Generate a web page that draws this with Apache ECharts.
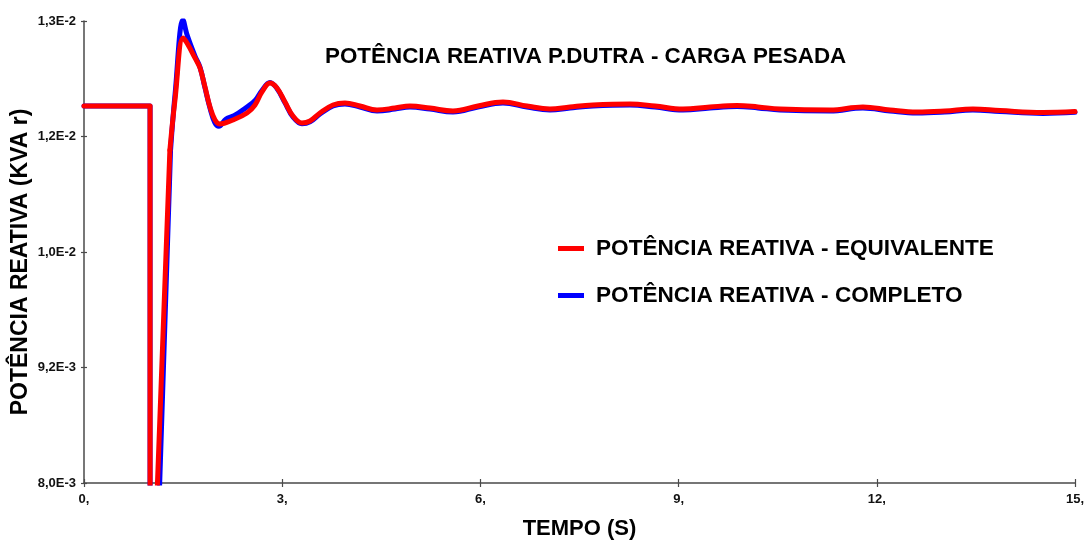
<!DOCTYPE html>
<html>
<head>
<meta charset="utf-8">
<script src="https://cdn.jsdelivr.net/npm/echarts@6/dist/echarts.min.js"></script>
<style>
  html, body { margin: 0; padding: 0; background: #ffffff; }
  #chart { width: 1091px; height: 547px; }
</style>
</head>
<body>
<div id="chart"></div>
<script>
// Reactive power at P.Dutra, heavy load: equivalent vs. complete model
const chartTitle = 'POTÊNCIA REATIVA P.DUTRA - CARGA PESADA';
const xName = 'TEMPO (S)';
const yName = 'POTÊNCIA REATIVA (KVA r)';
const seriesNames = ['POTÊNCIA REATIVA - EQUIVALENTE', 'POTÊNCIA REATIVA - COMPLETO'];

// y tick labels, evenly spaced from 8.0E-3 to 1.3E-2
const yTickLabels = ['8,0E-3', '9,2E-3', '1,0E-2', '1,2E-2', '1,3E-2'];
const yMin = 0.008;
const yMax = 0.013;

// x ticks every 3 s
const xMin = 0;
const xMax = 15;
const xStep = 3;

// Equivalent model (s, kVAr)
const tempoEquivalente = [0, 1.0, 1.0, 1.06, 1.30, 1.377, 1.50, 1.559, 1.68, 1.756, 1.831, 1.907, 1.983, 2.058,
  2.255, 2.467, 2.588, 2.694, 2.815, 2.921, 3.042, 3.163, 3.299, 3.421, 3.572, 3.769, 3.950, 4.177, 4.435,
  4.707, 4.934, 5.237, 5.585, 5.963, 6.342, 6.705, 7.053, 7.356, 7.704, 8.264, 8.642, 9.066, 9.475, 9.883,
  10.20, 10.534, 11.291, 11.79, 12.20, 12.608, 13.03, 13.455, 13.864, 14.515, 15.0];
const qEquivalente = [0.01208, 0.01208, 0.0070, 0.0070, 0.011604, 0.012145, 0.012816, 0.012762, 0.012600, 0.012491, 0.012286, 0.012069, 0.011929, 0.011885,
  0.011929, 0.012004, 0.012091, 0.012232, 0.012329, 0.012275, 0.012123, 0.011972, 0.011896, 0.011918, 0.012004, 0.012091, 0.012113, 0.012080, 0.012037,
  0.012058, 0.012080, 0.012058, 0.012026, 0.012080, 0.012123, 0.012080, 0.012048, 0.012070, 0.012091, 0.012102, 0.012080, 0.012048, 0.012070, 0.012085,
  0.012070, 0.012048, 0.012037, 0.012070, 0.012037, 0.012015, 0.012026, 0.012048, 0.012031, 0.012010, 0.012020];

// Complete model (s, kVAr)
const tempoCompleto = [0, 1.0, 1.0, 1.10, 1.31, 1.38, 1.50, 1.56, 1.68, 1.756, 1.83, 1.91, 1.98, 2.04,
  2.15, 2.27, 2.467, 2.59, 2.69, 2.815, 2.921, 3.042, 3.163, 3.299, 3.421, 3.572, 3.769, 3.950, 4.177, 4.435,
  4.707, 4.934, 5.237, 5.585, 5.963, 6.342, 6.705, 7.053, 7.356, 7.704, 8.264, 8.642, 9.066, 9.475, 9.883,
  10.20, 10.534, 11.291, 11.79, 12.20, 12.608, 13.03, 13.455, 13.864, 14.515, 15.0];
const qCompleto = [0.01208, 0.01208, 0.0070, 0.0070, 0.011600, 0.012220, 0.013010, 0.012850, 0.012620, 0.012500, 0.012280, 0.012050, 0.011900, 0.011860,
  0.011940, 0.011975, 0.012070, 0.012140, 0.012245, 0.012335, 0.012270, 0.012115, 0.011962, 0.011887, 0.011908, 0.011993, 0.012080, 0.012102, 0.012069, 0.012026,
  0.012047, 0.012069, 0.012047, 0.012015, 0.012069, 0.012112, 0.012069, 0.012037, 0.012059, 0.012080, 0.012091, 0.012069, 0.012037, 0.012059, 0.012074,
  0.012059, 0.012037, 0.012026, 0.012059, 0.012026, 0.012004, 0.012015, 0.012037, 0.012020, 0.012000, 0.012012];

// the disturbance (step down and recovery ramp) is drawn straight,
// the oscillation that follows is drawn as a smooth curve
const rampEnd = 4;

const zip = (xs, ys) => xs.map((x, i) => [x, ys[i]]);

const font = '"Liberation Sans", Arial, sans-serif';
const axisColor = '#4a4a4a';

function traceSeries(name, color, xs, ys, z) {
  const pts = zip(xs, ys);
  const base = {
    name: name,
    type: 'line',
    showSymbol: false,
    symbol: 'none',
    color: color,
    lineStyle: { color: color, width: 5, join: 'round', cap: 'round' },
    clip: true,
    z: z
  };
  return [
    Object.assign({}, base, { data: pts.slice(0, rampEnd + 1), smooth: false }),
    Object.assign({}, base, { data: pts.slice(rampEnd), smooth: 0.4 })
  ];
}

const chart = echarts.init(document.getElementById('chart'), null, { renderer: 'canvas' });

chart.setOption({
  animation: false,
  backgroundColor: '#ffffff',
  title: {
    text: chartTitle,
    left: 320,
    top: 41,
    textStyle: { fontFamily: font, fontSize: 22.4, fontWeight: 'bold', color: '#000' }
  },
  legend: {
    orient: 'vertical',
    left: 553,
    top: 232,
    itemGap: 24,
    itemWidth: 26,
    itemHeight: 5,
    icon: 'rect',
    data: seriesNames,
    textStyle: { fontFamily: font, fontSize: 22.6, fontWeight: 'bold', color: '#000', padding: [0, 0, 0, 7] }
  },
  graphic: [
    {
      type: 'text',
      x: 21,
      y: 262,
      rotation: Math.PI / 2,
      style: {
        text: yName,
        fontFamily: font,
        fontSize: 23,
        fontWeight: 'bold',
        fill: '#000',
        align: 'center',
        verticalAlign: 'middle'
      }
    }
  ],
  grid: { left: 84, right: 16, top: 21, bottom: 64, containLabel: false },
  xAxis: [
    {
      type: 'value',
      min: xMin, max: xMax, interval: xStep,
      name: xName,
      nameLocation: 'middle',
      nameGap: 35,
      nameTextStyle: { fontFamily: font, fontSize: 22, fontWeight: 'bold', color: '#000' },
      axisLine: { show: true, lineStyle: { color: axisColor, width: 1.5 } },
      axisTick: { show: true, length: 4, lineStyle: { color: axisColor, width: 1.2 } },
      axisLabel: {
        fontFamily: font, fontSize: 13, fontWeight: 'bold', color: '#111', margin: 10,
        formatter: v => v + ','
      },
      splitLine: { show: false }
    },
    {
      // inner half of the crossing tick marks
      type: 'value',
      min: xMin, max: xMax, interval: xStep,
      position: 'bottom',
      axisLine: { show: false },
      axisTick: { show: true, inside: true, length: 4, lineStyle: { color: axisColor, width: 1.2 } },
      axisLabel: { show: false },
      splitLine: { show: false }
    }
  ],
  yAxis: [
    {
      type: 'value',
      min: yMin, max: yMax,
      axisLine: { show: true, lineStyle: { color: axisColor, width: 1.5 } },
      axisTick: { show: false },
      axisLabel: { show: false },
      splitLine: { show: false }
    },
    {
      // tick labels on evenly spaced positions
      type: 'category',
      data: yTickLabels,
      boundaryGap: false,
      position: 'left',
      axisLine: { show: false },
      axisTick: { show: true, length: 3, alignWithLabel: true, lineStyle: { color: axisColor, width: 1.2 } },
      axisLabel: { fontFamily: font, fontSize: 13, fontWeight: 'bold', color: '#111', margin: 8 },
      splitLine: { show: false }
    },
    {
      type: 'category',
      data: yTickLabels,
      boundaryGap: false,
      position: 'left',
      axisLine: { show: false },
      axisTick: { show: true, inside: true, length: 3, lineStyle: { color: axisColor, width: 1.2 } },
      axisLabel: { show: false },
      splitLine: { show: false }
    }
  ],
  series: [].concat(
    traceSeries(seriesNames[1], '#0000ff', tempoCompleto, qCompleto, 2),
    traceSeries(seriesNames[0], '#ff0000', tempoEquivalente, qEquivalente, 3)
  )
});
</script>
</body>
</html>
